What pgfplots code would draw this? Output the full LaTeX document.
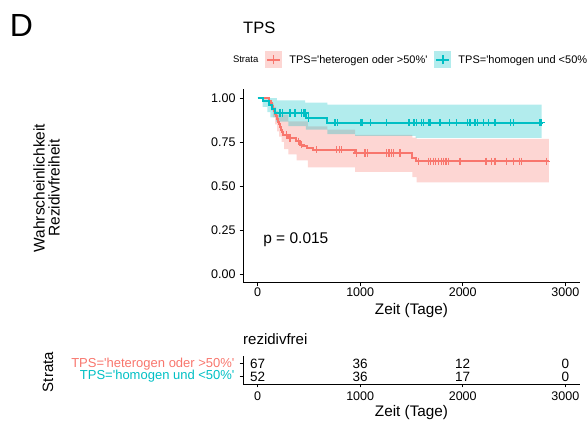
\documentclass[border=0pt]{standalone}
\usepackage{fontspec}
\setmainfont{Liberation Sans}
\usepackage{pgfplots}
\pgfplotsset{compat=1.18}
\definecolor{cred}{HTML}{F8766D}
\definecolor{cteal}{HTML}{00BFC4}
\newcommand{\fs}[1]{\fontsize{#1}{#1}\selectfont}
\begin{document}
\begin{tikzpicture}
\path[use as bounding box] (0pt,-426pt) rectangle (587pt,0pt);
\node[font=\fs{32}, inner sep=0pt] at (21.5pt,-25pt) {D};
\node[font=\fs{16.5}, anchor=west, inner sep=0pt] at (243pt,-28pt) {TPS};
\node[font={\fontsize{15.5}{15}\selectfont}, rotate=90, align=center, inner sep=0pt] at (46.5pt,-188pt) {Wahrscheinlichkeit\\Rezidivfreiheit};
\node[font=\fs{15}, rotate=90, inner sep=0pt] at (48pt,-372pt) {Strata};
\node[font=\fs{15}, anchor=west, inner sep=0pt] at (243pt,-339pt) {rezidivfrei};

\begin{axis}[
  at={(243pt,-282.7pt)}, anchor=south west, scale only axis,
  width=337pt, height=193.5pt,
  xmin=-142, xmax=3143, ymin=-0.05, ymax=1.05,
  axis lines=left, axis line style={-, line width=0.8pt, black},
  tick style={black, line width=0.8pt}, major tick length=3.3pt, tick align=outside,
  xtick={0,1000,2000,3000}, xticklabels={0,1000,2000,3000},
  ytick={0,0.25,0.5,0.75,1}, yticklabels={0.00,0.25,0.50,0.75,1.00},
  ticklabel style={font=\fs{12.5}, inner sep=0pt},
  xticklabel style={anchor=north, yshift=-1.5pt},
  yticklabel style={anchor=east, xshift=-4pt},
  xlabel={Zeit (Tage)},
  xlabel style={font=\fs{15.3}, at={(axis description cs:0.5,-0.146)}, anchor=center, inner sep=0pt},
  legend style={at={(axis description cs:-0.0504,1.151)}, anchor=west, draw=none, fill=none,
    inner sep=0pt, outer sep=0pt, font=\fs{11}, nodes={inner sep=0pt},
    /tikz/every odd column/.style={column sep=7pt},
    /tikz/every even column/.style={column sep=7pt}},
  legend columns=-1, legend cell align=left,
]
\addlegendimage{empty legend}
\addlegendentry{\fs{9.5}Strata\hspace{5pt}}
\addlegendimage{legend image code/.code={\path[fill=cred, fill opacity=0.3, draw=none] (0pt,-8.5pt) rectangle (17pt,8.5pt); \draw[cred, line width=1.2pt] (2pt,0pt) -- (15pt,0pt) (8.5pt,-4.5pt) -- (8.5pt,4.5pt);}}
\addlegendentry{TPS=\textquotesingle heterogen oder >50\%\textquotesingle}
\addlegendimage{legend image code/.code={\path[fill=cteal, fill opacity=0.3, draw=none] (0pt,-8.5pt) rectangle (17pt,8.5pt); \draw[cteal, line width=1.2pt] (2pt,0pt) -- (15pt,0pt) (8.5pt,-4.5pt) -- (8.5pt,4.5pt);}}
\addlegendentry{TPS=\textquotesingle homogen und <50\%\textquotesingle}

% confidence bands (upper bound forward, lower bound backward)
\addplot[fill=cred, fill opacity=0.3, draw=none, forget plot] coordinates {(0,1) (120,1) (120,0.99) (140,0.99) (140,0.97) (160,0.97) (160,0.95) (180,0.95) (180,0.925) (200,0.925) (200,0.905) (300,0.905) (300,0.867) (490,0.867) (490,0.839) (680,0.839) (680,0.82) (950,0.82) (950,0.79) (1510,0.79) (1510,0.775) (1550,0.775) (1550,0.767) (2840,0.767)
 (2840,0.52) (1550,0.52) (1550,0.55) (1510,0.55) (1510,0.58) (950,0.58) (950,0.605) (490,0.605) (490,0.645) (380,0.645) (380,0.68) (300,0.68) (300,0.71) (260,0.71) (260,0.75) (235,0.75) (235,0.78) (210,0.78) (210,0.81) (190,0.81) (190,0.85) (170,0.85) (170,0.89) (150,0.89) (150,0.93) (130,0.93) (130,0.96) (110,0.96) (110,1) (0,1)} --cycle;
\addplot[fill=cteal, fill opacity=0.3, draw=none, forget plot] coordinates {(0,1) (187,1) (187,0.987) (463,0.987) (463,0.973) (681,0.973) (681,0.962) (2770,0.962)
 (2770,0.773) (1540,0.773) (1540,0.785) (950,0.785) (950,0.795) (680,0.795) (680,0.82) (470,0.82) (470,0.84) (300,0.84) (300,0.865) (180,0.865) (180,0.89) (125,0.89) (125,0.92) (95,0.92) (95,0.95) (50,0.95) (50,1) (0,1)} --cycle;

% survival curves
\addplot[const plot, cred, line width=2pt, forget plot] coordinates {(0,1) (110,0.985) (130,0.970) (140,0.955) (150,0.940) (160,0.925) (170,0.910) (180,0.895) (190,0.880) (200,0.865) (210,0.850) (220,0.835) (230,0.820) (238,0.805) (250,0.790) (300,0.773) (370,0.754) (414,0.735) (447,0.725) (479,0.716) (544,0.706) (950,0.6875) (1505,0.66) (1540,0.64) (2840,0.64)};
\addplot[const plot, cteal, line width=2pt, forget plot] coordinates {(0,1) (55,0.981) (110,0.962) (140,0.940) (170,0.915) (475,0.886) (675,0.860) (2780,0.860)};

% censor marks
\addplot[only marks, mark=+, mark size=3.6pt, cred, line width=1.2pt, forget plot] coordinates {(284,0.790) (317,0.773) (398,0.754) (431,0.735) (577,0.706) (772,0.706) (798,0.706) (820,0.706) (967,0.6875) (1048,0.6875) (1074,0.6875) (1259,0.6875) (1282,0.6875) (1308,0.6875) (1324,0.6875) (1389,0.6875) (1568,0.64) (1665,0.64) (1688,0.64) (1714,0.64) (1737,0.64) (1763,0.64) (1789,0.64) (1811,0.64) (1837,0.64) (1860,0.64) (1974,0.64) (2227,0.64) (2282,0.64) (2315,0.64) (2429,0.64) (2494,0.64) (2552,0.64) (2575,0.64) (2819,0.64)};
\addplot[only marks, mark=+, mark size=3.6pt, cteal, line width=1.2pt, forget plot] coordinates {(219,0.915) (245,0.915) (317,0.915) (365,0.915) (430,0.915) (447,0.915) (463,0.915) (496,0.886) (755,0.86) (781,0.86) (1009,0.86) (1025,0.86) (1097,0.86) (1259,0.86) (1470,0.86) (1480,0.86) (1525,0.86) (1551,0.86) (1600,0.86) (1616,0.86) (1665,0.86) (1681,0.86) (1779,0.86) (1870,0.86) (1941,0.86) (2048,0.86) (2071,0.86) (2113,0.86) (2126,0.86) (2143,0.86) (2201,0.86) (2250,0.86) (2315,0.86) (2468,0.86) (2494,0.86) (2753,0.86) (2770,0.86)};

\node[anchor=west, inner sep=0pt, font=\fs{15.5}] at (axis cs:54,0.195) {p = 0.015};
\end{axis}

\begin{axis}[
  at={(243pt,-384pt)}, anchor=south west, scale only axis,
  width=337pt, height=28pt, clip=false,
  xmin=-142, xmax=3143, ymin=0.4, ymax=2.6,
  axis lines=left, axis line style={-, line width=0.8pt, black},
  tick style={black, line width=0.8pt}, major tick length=3.3pt, tick align=outside,
  xtick={0,1000,2000,3000}, xticklabels={0,1000,2000,3000},
  ytick={1,2},
  yticklabels={{\color{cteal}TPS=\textquotesingle homogen und <50\%\textquotesingle},{\color{cred}TPS=\textquotesingle heterogen oder >50\%\textquotesingle}},
  xticklabel style={font=\fs{12.5}, inner sep=0pt, anchor=north, yshift=-4pt},
  yticklabel style={font=\fs{13}, inner sep=0pt, anchor=east, xshift=-5pt},
  xlabel={Zeit (Tage)},
  xlabel style={font=\fs{15.3}, at={(axis description cs:0.5,-1.036)}, anchor=center, inner sep=0pt},
]
\addplot[draw=none, mark=none, nodes near coords, point meta=explicit symbolic,
  nodes near coords align=center,
  every node near coord/.append style={font=\fs{13.5}, anchor=center, inner sep=0pt, black}]
  table[meta=n] {
x y n
0 2 67
1000 2 36
2000 2 12
3000 2 0
0 1 52
1000 1 36
2000 1 17
3000 1 0
};
\end{axis}
\end{tikzpicture}
\end{document}
